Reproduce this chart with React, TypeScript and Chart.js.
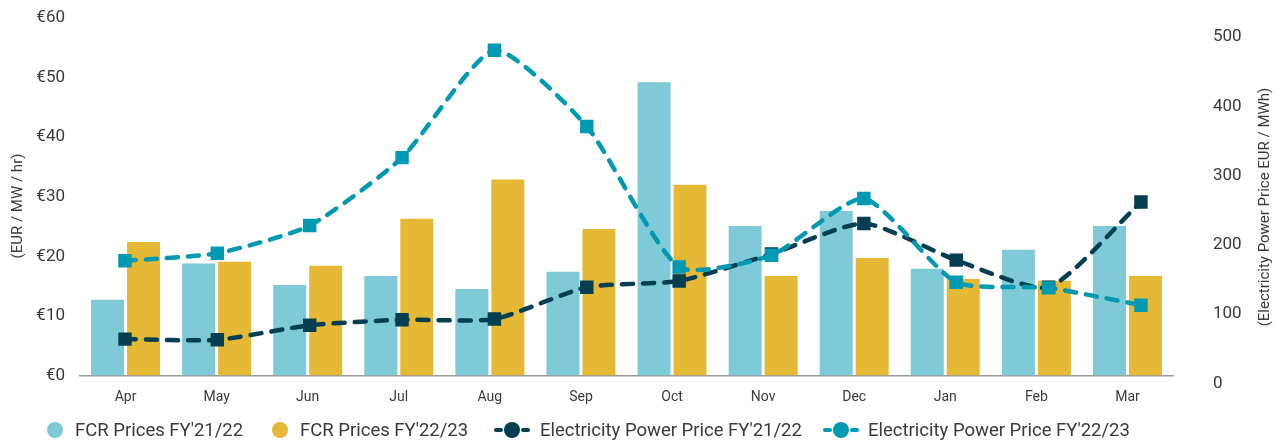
import React, { useEffect, useRef } from "react";
import { Chart, registerables } from "chart.js";

Chart.register(...registerables);

const months = ["Apr", "May", "Jun", "Jul", "Aug", "Sep", "Oct", "Nov", "Dec", "Jan", "Feb", "Mar"];
const fcr2122 = [12.7, 18.8, 15.2, 16.7, 14.5, 17.4, 49.2, 25.1, 27.6, 17.9, 21.1, 25.1];
const fcr2223 = [22.4, 19.1, 18.4, 26.3, 32.9, 24.6, 32.0, 16.7, 19.7, 16.2, 15.9, 16.7];
const power2122 = [64, 63, 84, 92, 93, 139, 148, 187, 231, 178, 139, 262];
const power2223 = [177, 188, 228, 326, 481, 371, 168, 185, 267, 146, 138, 113];
const leftTicks = [0, 10, 20, 30, 40, 50, 60];
const rightTicks = [0, 100, 200, 300, 400, 500];

const C_BLUE = "#7ECAD7";
const C_YELLOW = "#E5B935";
const C_DARK = "#033E51";
const C_TEAL = "#0099B2";
const TXT = "#3a3a3a";
const FONT = "Roboto, 'Noto Sans', sans-serif";

const overlayPlugin = {
  id: "overlay",
  afterDraw(chart: any) {
    const ctx = chart.ctx as CanvasRenderingContext2D;
    ctx.save();
    ctx.fillStyle = TXT;
    ctx.font = `15px ${FONT}`;
    ctx.textAlign = "center";
    ctx.textBaseline = "middle";
    ctx.save();
    ctx.translate(18, 206);
    ctx.rotate(-Math.PI / 2);
    ctx.fillText("(EUR / MW / hr)", 0, 0);
    ctx.restore();
    ctx.save();
    ctx.translate(1265, 207);
    ctx.rotate(-Math.PI / 2);
    ctx.fillText("(Electricity Power Price EUR / MWh)", 0, 0);
    ctx.restore();

    // legend
    const ly = 430;
    ctx.font = `18.5px ${FONT}`;
    ctx.textAlign = "left";
    const circle = (x: number, color: string) => {
      ctx.beginPath();
      ctx.fillStyle = color;
      ctx.arc(x, ly, 8, 0, Math.PI * 2);
      ctx.fill();
    };
    const lineIcon = (cx: number, color: string) => {
      ctx.strokeStyle = color;
      ctx.lineWidth = 4;
      ctx.lineCap = "round";
      ctx.beginPath();
      ctx.moveTo(cx - 16, ly);
      ctx.lineTo(cx - 11, ly);
      ctx.moveTo(cx + 11, ly);
      ctx.lineTo(cx + 16, ly);
      ctx.stroke();
      circle(cx, color);
    };
    circle(55, C_BLUE);
    ctx.fillStyle = TXT;
    ctx.fillText("FCR Prices FY'21/22", 75, ly + 1);
    circle(280, C_YELLOW);
    ctx.fillStyle = TXT;
    ctx.fillText("FCR Prices FY'22/23", 300, ly + 1);
    lineIcon(512, C_DARK);
    ctx.fillStyle = TXT;
    ctx.fillText("Electricity Power Price FY'21/22", 540, ly + 1);
    lineIcon(841, C_TEAL);
    ctx.fillStyle = TXT;
    ctx.fillText("Electricity Power Price FY'22/23", 868, ly + 1);
    ctx.restore();
  },
};

function noPad(s: any) {
  s.paddingTop = 0;
  s.paddingBottom = 0;
  s.paddingLeft = 0;
  s.paddingRight = 0;
}

export default function App() {
  const ref = useRef<HTMLCanvasElement>(null);
  useEffect(() => {
    document.body.style.margin = "0";
    const canvas = ref.current!;
    const lineCommon = {
      type: "line" as const,
      xAxisID: "x2",
      yAxisID: "y2",
      borderWidth: 4.5,
      borderDash: [11, 10],
      borderCapStyle: "round" as const,
      tension: 0.2,
      pointStyle: "rect" as const,
      pointRadius: 9.5,
      pointHoverRadius: 9.5,
      fill: false,
    };
    const chart = new Chart(canvas, {
      type: "line",
      data: {
        labels: months,
        datasets: [
          {
            ...lineCommon,
            label: "Electricity Power Price FY'22/23",
            data: power2223.map((v, i) => ({ x: i, y: v })),
            borderColor: C_TEAL,
            backgroundColor: C_TEAL,
            pointBackgroundColor: C_TEAL,
            pointBorderColor: C_TEAL,
            pointBorderWidth: 0,
            order: 0,
          } as any,
          {
            ...lineCommon,
            label: "Electricity Power Price FY'21/22",
            data: power2122.map((v, i) => ({ x: i, y: v })),
            borderColor: C_DARK,
            backgroundColor: C_DARK,
            pointBackgroundColor: C_DARK,
            pointBorderColor: C_DARK,
            pointBorderWidth: 0,
            order: 1,
          } as any,
          {
            type: "bar",
            label: "FCR Prices FY'21/22",
            data: fcr2122,
            backgroundColor: C_BLUE,
            xAxisID: "x",
            yAxisID: "y",
            categoryPercentage: 1.58,
            barPercentage: 0.917,
            order: 2,
          } as any,
          {
            type: "bar",
            label: "FCR Prices FY'22/23",
            data: fcr2223,
            backgroundColor: C_YELLOW,
            xAxisID: "x",
            yAxisID: "y",
            categoryPercentage: 1.58,
            barPercentage: 0.917,
            order: 2,
          } as any,
        ],
      },
      options: {
        animation: false,
        responsive: false,
        layout: { padding: { top: 18, bottom: 35.5, left: 0, right: 0 } },
        plugins: { legend: { display: false }, tooltip: { enabled: false } },
        scales: {
          x: {
            type: "category",
            offset: true,
            grid: { display: false, offset: true },
            border: { display: true, color: "#9a9a9a", width: 1.5 },
            ticks: { color: TXT, font: { family: FONT, size: 14 }, padding: 6 },
            afterFit(s: any) {
              s.height = 30;
              noPad(s);
            },
          },
          x2: {
            type: "linear",
            display: false,
            offset: false,
            min: -0.487,
            max: 11.347,
            afterFit(s: any) {
              noPad(s);
            },
          },
          y: {
            type: "linear",
            position: "left",
            min: 0,
            max: 60,
            grid: { display: false },
            border: { display: false },
            afterBuildTicks(s: any) {
              s.ticks = leftTicks.map((v) => ({ value: v }));
            },
            ticks: {
              color: TXT,
              font: { family: FONT, size: 17 },
              padding: 7,
              autoSkip: false,
              callback: (v: any) => "€" + v,
            },
            afterFit(s: any) {
              s.width = 80;
              noPad(s);
            },
          },
          y2: {
            type: "linear",
            position: "right",
            min: 11.5,
            max: 527.5,
            grid: { display: false },
            border: { display: false },
            afterBuildTicks(s: any) {
              s.ticks = rightTicks.map((v) => ({ value: v }));
            },
            ticks: {
              color: TXT,
              font: { family: FONT, size: 17 },
              padding: 32,
              autoSkip: false,
              callback: (v: any) => String(v),
            },
            afterFit(s: any) {
              s.width = 110;
              noPad(s);
            },
          },
        },
      },
      plugins: [overlayPlugin],
    });
    return () => chart.destroy();
  }, []);
  return <canvas ref={ref} width={1283} height={441} style={{ display: "block" }} />;
}
